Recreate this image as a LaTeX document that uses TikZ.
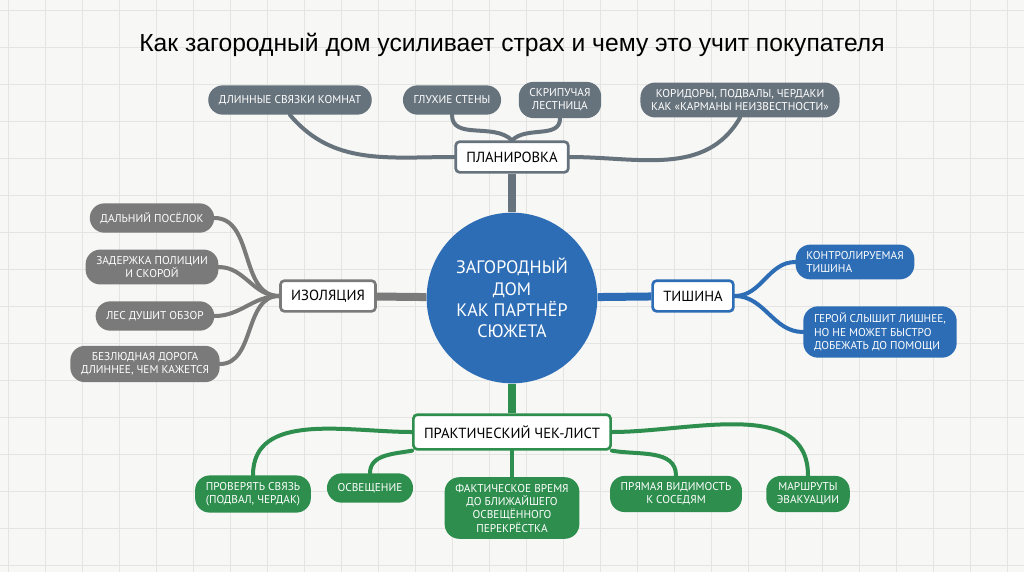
\documentclass[tikz,border=0pt]{standalone}
\usepackage{fontspec}
\setmainfont{PT Sans}
\newfontfamily\titlefont{Liberation Sans}
\usetikzlibrary{backgrounds}
\definecolor{paper}{HTML}{F7F7F5}
\definecolor{gridc}{HTML}{E4E4E2}
\definecolor{plang}{HTML}{67737C}
\definecolor{isog}{HTML}{7A7A7A}
\definecolor{silb}{HTML}{2D6DB5}
\definecolor{chkg}{HTML}{2E8E4E}
\tikzset{
  leaf/.style={rounded corners=11pt, fill=#1, text=white, font=\fontsize{8.5}{10}\selectfont,
    align=center, inner xsep=8pt, inner ysep=5pt, minimum height=22pt},
  hub/.style={draw=#1, line width=2pt, fill=white, rounded corners=3pt,
    font=\fontsize{11}{13}\selectfont, minimum height=23pt, inner xsep=8pt},
  twig/.style={draw=#1, line width=3pt, line cap=round},
  trunk/.style={draw=#1, line width=6pt},
}
\begin{document}
\begin{tikzpicture}[x=0.75pt,y=-0.75pt]
\useasboundingbox (0,0) rectangle (1024,572);

\node[font=\titlefont\fontsize{18.5}{20}\selectfont] (title) at (512,45) {Как загородный дом усиливает страх и чему это учит покупателя};

\node[circle, fill=silb, minimum size=128pt, text=white, align=center,
  font=\fontsize{13.5}{16}\selectfont] (core) at (512,298) {ЗАГОРОДНЫЙ\\ДОМ\\КАК ПАРТНЁР\\СЮЖЕТА};

% planning
\node[hub=plang] (plan) at (512,157) {ПЛАНИРОВКА};
\node[leaf=plang] (rooms) at (290,100) {ДЛИННЫЕ СВЯЗКИ КОМНАТ};
\node[leaf=plang] (walls) at (452,100) {ГЛУХИЕ СТЕНЫ};
\node[leaf=plang] (stairs) at (560,100) {СКРИПУЧАЯ\\ЛЕСТНИЦА};
\node[leaf=plang] (pockets) at (740,100) {КОРИДОРЫ, ПОДВАЛЫ, ЧЕРДАКИ\\КАК «КАРМАНЫ НЕИЗВЕСТНОСТИ»};

% isolation
\node[hub=isog] (iso) at (328,296) {ИЗОЛЯЦИЯ};
\node[leaf=isog] (far) at (152,218) {ДАЛЬНИЙ ПОСЁЛОК};
\node[leaf=isog] (police) at (152,267) {ЗАДЕРЖКА ПОЛИЦИИ\\И СКОРОЙ};
\node[leaf=isog] (forest) at (155,316) {ЛЕС ДУШИТ ОБЗОР};
\node[leaf=isog] (road) at (145,364) {БЕЗЛЮДНАЯ ДОРОГА\\ДЛИННЕЕ, ЧЕМ КАЖЕТСЯ};

% silence
\node[hub=silb] (sil) at (693,296) {ТИШИНА};
\node[leaf=silb, align=left] (ctrl) at (855,262) {КОНТРОЛИРУЕМАЯ\\ТИШИНА};
\node[leaf=silb, align=left] (hero) at (880,332) {ГЕРОЙ СЛЫШИТ ЛИШНЕЕ,\\НО НЕ МОЖЕТ БЫСТРО\\ДОБЕЖАТЬ ДО ПОМОЩИ};

% checklist
\node[hub=chkg, minimum height=26pt] (chk) at (512,432) {ПРАКТИЧЕСКИЙ ЧЕК-ЛИСТ};
\node[leaf=chkg] (link) at (253,494) {ПРОВЕРЯТЬ СВЯЗЬ\\(ПОДВАЛ, ЧЕРДАК)};
\node[leaf=chkg] (light) at (370,488) {ОСВЕЩЕНИЕ};
\node[leaf=chkg] (time) at (512,508) {ФАКТИЧЕСКОЕ ВРЕМЯ\\ДО БЛИЖАЙШЕГО\\ОСВЕЩЁННОГО\\ПЕРЕКРЁСТКА};
\node[leaf=chkg] (sight) at (676,494) {ПРЯМАЯ ВИДИМОСТЬ\\К СОСЕДЯМ};
\node[leaf=chkg] (exit) at (808,494) {МАРШРУТЫ\\ЭВАКУАЦИИ};

\begin{scope}[on background layer]
\fill[paper] (0,0) rectangle (1024,572);
\foreach \i in {0,...,28} \draw[gridc,line width=0.6pt] (\i*37+8,0) -- (\i*37+8,572);
\foreach \j in {0,...,15} \draw[gridc,line width=0.6pt] (0,\j*37+10) -- (1024,\j*37+10);
\draw[trunk=plang] (core) -- (plan);
\draw[trunk=isog] (core) -- (iso);
\draw[trunk=silb] (core) -- (sil);
\draw[trunk=chkg] (core) -- (chk);
\draw[twig=plang] (plan.west) to[out=180,in=-50] (rooms.south);
\draw[twig=plang] (plan.north) to[out=135,in=-90] (walls.south);
\draw[twig=plang] (plan.north) to[out=45,in=-90] (stairs.south);
\draw[twig=plang] (plan.east) to[out=0,in=-120] (pockets.south);
\foreach \n in {far,police,forest,road} \draw[twig=isog] (iso.west) to[out=180,in=0] (\n.east);
\foreach \n in {ctrl,hero} \draw[twig=silb] (sil.east) to[out=0,in=180] (\n.west);
\draw[twig=chkg] (chk.west) to[out=180,in=90] (link.north);
\draw[twig=chkg] (chk.south west) to[out=190,in=90] (light.north);
\draw[twig=chkg] (chk.south) -- (time.north);
\draw[twig=chkg] (chk.south east) to[out=-10,in=90] (sight.north);
\draw[twig=chkg] (chk.east) to[out=0,in=90] (exit.north);
\end{scope}
\end{tikzpicture}
\end{document}
